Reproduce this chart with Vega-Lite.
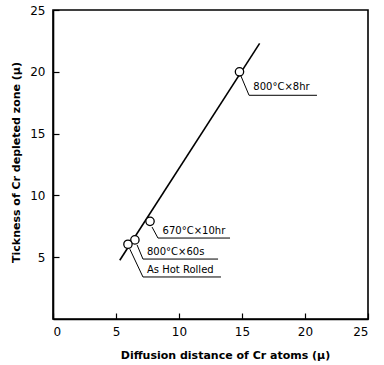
{
  "$schema": "https://vega.github.io/schema/vega-lite/v6.json",
  "width": 315,
  "height": 309,
  "autosize": {"type": "none"},
  "padding": {"left": 53, "top": 10, "right": 16, "bottom": 46},
  "background": "white",
  "config": {
    "view": {"stroke": "black", "strokeWidth": 1.6},
    "font": "DejaVu Sans",
    "axis": {
      "domainColor": "black", "domainWidth": 1.6, "tickColor": "black", "tickWidth": 1.2,
      "grid": false, "labelColor": "black", "titleColor": "black",
      "labelFont": "DejaVu Sans", "titleFont": "DejaVu Sans", "labelFontSize": 12, "titleFontSize": 11, "titleFontWeight": "bold"
    }
  },
  "datasets": {
    "fit": [{"x": 5.3, "y": 4.75}, {"x": 16.4, "y": 22.3}],
    "points": [
      {"x": 14.8, "y": 20.0, "label": "800°C×8hr", "tx": 15.9, "ty": 18.5},
      {"x": 7.7, "y": 7.9, "label": "670°C×10hr", "tx": 8.7, "ty": 6.9},
      {"x": 6.5, "y": 6.4, "label": "800°C×60s", "tx": 7.46, "ty": 5.2},
      {"x": 5.95, "y": 6.05, "label": "As Hot Rolled", "tx": 7.46, "ty": 3.72}
    ],
    "leaders": [
      {"label": "800°C×8hr", "o": 1, "x": 14.9, "y": 19.7},
      {"label": "800°C×8hr", "o": 2, "x": 15.56, "y": 18.1},
      {"label": "800°C×8hr", "o": 3, "x": 20.95, "y": 18.1},
      {"label": "670°C×10hr", "o": 1, "x": 7.86, "y": 7.44},
      {"label": "670°C×10hr", "o": 2, "x": 8.33, "y": 6.55},
      {"label": "670°C×10hr", "o": 3, "x": 14.05, "y": 6.55},
      {"label": "800°C×60s", "o": 1, "x": 6.67, "y": 6.0},
      {"label": "800°C×60s", "o": 2, "x": 7.14, "y": 4.85},
      {"label": "800°C×60s", "o": 3, "x": 13.1, "y": 4.85},
      {"label": "As Hot Rolled", "o": 1, "x": 6.1, "y": 5.65},
      {"label": "As Hot Rolled", "o": 2, "x": 7.14, "y": 3.4},
      {"label": "As Hot Rolled", "o": 3, "x": 13.33, "y": 3.4}
    ]
  },
  "encoding": {
    "x": {
      "field": "x", "type": "quantitative",
      "scale": {"domain": [0, 25], "nice": false},
      "axis": {"values": [0, 5, 10, 15, 20, 25], "tickSize": -6, "labelPadding": 13, "title": "Diffusion distance of Cr atoms (μ)", "titlePadding": 12, "titleX": 172}
    },
    "y": {
      "field": "y", "type": "quantitative",
      "scale": {"domain": [0, 25], "nice": false},
      "axis": {"values": [5, 10, 15, 20, 25], "tickSize": -6, "labelPadding": 14, "title": "Tickness of Cr depleted zone (μ)", "titlePadding": 8, "titleY": 152}
    }
  },
  "layer": [
    {"data": {"name": "fit"}, "mark": {"type": "line", "color": "black", "strokeWidth": 1.6}, "encoding": {}},
    {"data": {"name": "leaders"}, "mark": {"type": "line", "color": "black", "strokeWidth": 1}, "encoding": {"detail": {"field": "label"}, "order": {"field": "o"}}},
    {"data": {"name": "points"}, "mark": {"type": "point", "shape": "circle", "filled": true, "fill": "white", "stroke": "black", "strokeWidth": 1.3, "size": 70, "opacity": 1}},
    {"data": {"name": "points"}, "mark": {"type": "text", "align": "left", "baseline": "alphabetic", "fontSize": 10, "color": "black"}, "encoding": {"x": {"field": "tx", "type": "quantitative"}, "y": {"field": "ty", "type": "quantitative"}, "text": {"field": "label"}}}
  ]
}
